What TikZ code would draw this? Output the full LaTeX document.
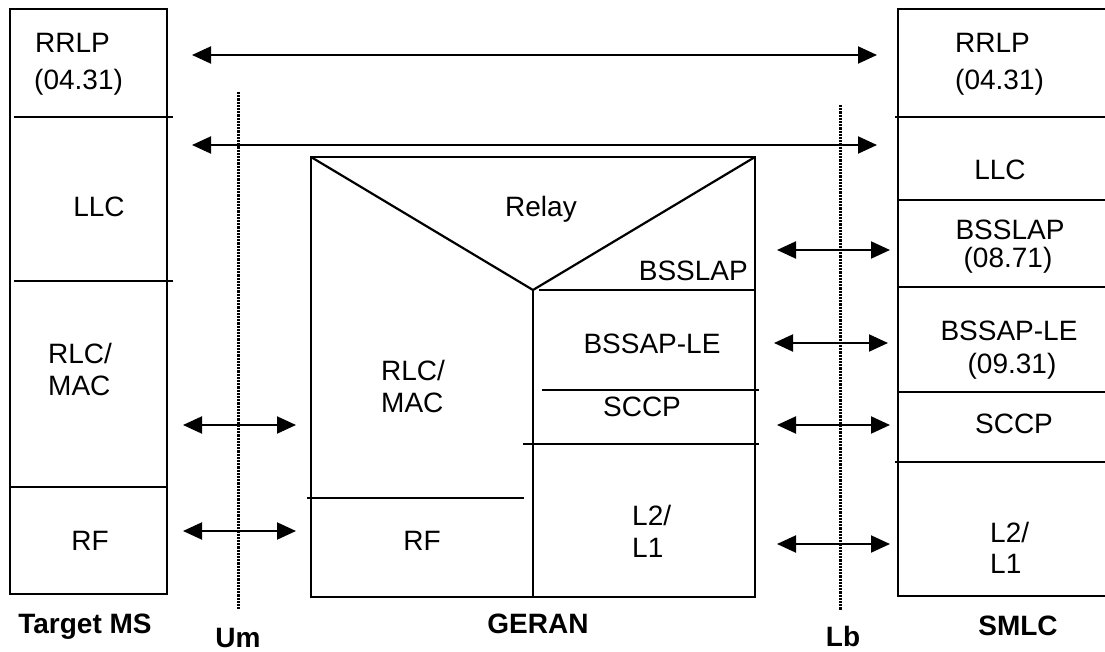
\documentclass[tikz,border=0pt]{standalone}
\usepackage{fontspec}
\setmainfont{Liberation Sans}
\usetikzlibrary{arrows.meta}
\begin{document}
\begin{tikzpicture}[x=1pt,y=-1pt,
 box/.style={line width=2.2pt},
 lbl/.style={inner sep=0pt, font=\fontsize{28}{32}\selectfont},
 bold/.style={inner sep=0pt, font=\fontsize{28}{32}\selectfont\bfseries},
 iface/.style={line width=3pt, dash pattern=on 2.2pt off 1pt},
 dbl/.style={line width=2pt, {Triangle[length=19pt,width=17pt]}-{Triangle[length=19pt,width=17pt]}},
]
\useasboundingbox (0,0) rectangle (1105,652);

% ---------- Target MS ----------
\draw[box] (10,9) rectangle (167,594);
\draw[box] (14,117) -- (173,117);
\draw[box] (14,281) -- (173,281);
\draw[box] (10,487) -- (167,487);
\node[lbl, anchor=base west] (msrrlp) at (35,53) {RRLP};
\node[lbl, anchor=base west] (msrrlpn) at (34,90) {(04.31)};
\node[lbl, anchor=base] (msllc) at (99,217) {LLC};
\node[lbl, anchor=base west] (msrlc) at (48,363) {RLC/};
\node[lbl, anchor=base west] (msmac) at (48,395) {MAC};
\node[lbl, anchor=base] (msrf) at (90,550) {RF};
\node[bold, anchor=base] (msname) at (85,633) {Target MS};

% ---------- GERAN ----------
\draw[box] (311,157) rectangle (755,597);
\draw[box] (311,157) -- (533,290) -- (755,157);
\draw[box] (533,290) -- (533,597);
\draw[box] (539,290) -- (755,290);
\draw[box] (542,390) -- (759,390);
\draw[box] (523,444) -- (759,444);
\draw[box] (307,498) -- (524,498);
\node[lbl, anchor=base] (grelay) at (541,217) {Relay};
\node[lbl, anchor=base east] (gbsslap) at (748,280) {BSSLAP};
\node[lbl, anchor=base] (gbssap) at (652,353) {BSSAP-LE};
\node[lbl, anchor=base] (gsccp) at (642,416) {SCCP};
\node[lbl, anchor=base west] (grlc) at (381,380) {RLC/};
\node[lbl, anchor=base west] (gmac) at (381,412) {MAC};
\node[lbl, anchor=base] (grf) at (422,550) {RF};
\node[lbl, anchor=base west] (gl2) at (632,525) {L2/};
\node[lbl, anchor=base west] (gl1) at (632,557) {L1};
\node[bold, anchor=base] (gname) at (538,633) {GERAN};

% ---------- SMLC ----------
\draw[box] (1106,9) -- (898,9) -- (898,596) -- (1106,596);
\draw[box] (895,117) -- (1106,117);
\draw[box] (898,200) -- (1106,200);
\draw[box] (898,287) -- (1106,287);
\draw[box] (898,392) -- (1106,392);
\draw[box] (895,462) -- (1106,462);
\node[lbl, anchor=base west] (srrlp) at (955,53) {RRLP};
\node[lbl, anchor=base west] (srrlpn) at (955,90) {(04.31)};
\node[lbl, anchor=base] (sllc) at (1000,180) {LLC};
\node[lbl, anchor=base] (sbsslap) at (1010,240) {BSSLAP};
\node[lbl, anchor=base] (sbsslapn) at (1008,268) {(08.71)};
\node[lbl, anchor=base] (sbssap) at (1009,340) {BSSAP-LE};
\node[lbl, anchor=base] (sbssapn) at (1012,373) {(09.31)};
\node[lbl, anchor=base] (ssccp) at (1014,433) {SCCP};
\node[lbl, anchor=base west] (sl2) at (990,542) {L2/};
\node[lbl, anchor=base west] (sl1) at (990,573) {L1};
\node[bold, anchor=base] (sname) at (1018,635) {SMLC};

% ---------- interfaces ----------
\coordinate (umtop) at (238,92);
\coordinate (umbot) at (238,610);
\coordinate (lbtop) at (840,105);
\coordinate (lbbot) at (840,610);
\draw[iface] (umtop) -- (umbot);
\draw[iface] (lbtop) -- (lbbot);
\node[bold, anchor=base] (um) at (238,647) {Um};
\node[bold, anchor=base] (lb) at (843,646) {Lb};

% ---------- peer arrows ----------
\coordinate (a1l) at (192,55);  \coordinate (a1r) at (877,55);
\coordinate (a2l) at (192,145); \coordinate (a2r) at (877,145);
\coordinate (a3l) at (183,425); \coordinate (a3r) at (296,425);
\coordinate (a4l) at (183,531); \coordinate (a4r) at (296,531);
\coordinate (b1l) at (777,250); \coordinate (b1r) at (890,250);
\coordinate (b2l) at (774,343); \coordinate (b2r) at (888,343);
\coordinate (b3l) at (777,425); \coordinate (b3r) at (890,425);
\coordinate (b4l) at (777,544); \coordinate (b4r) at (890,544);
\draw[dbl] (a1l) -- (a1r);
\draw[dbl] (a2l) -- (a2r);
\draw[dbl] (a3l) -- (a3r);
\draw[dbl] (a4l) -- (a4r);
\draw[dbl] (b1l) -- (b1r);
\draw[dbl] (b2l) -- (b2r);
\draw[dbl] (b3l) -- (b3r);
\draw[dbl] (b4l) -- (b4r);
\end{tikzpicture}
\end{document}
